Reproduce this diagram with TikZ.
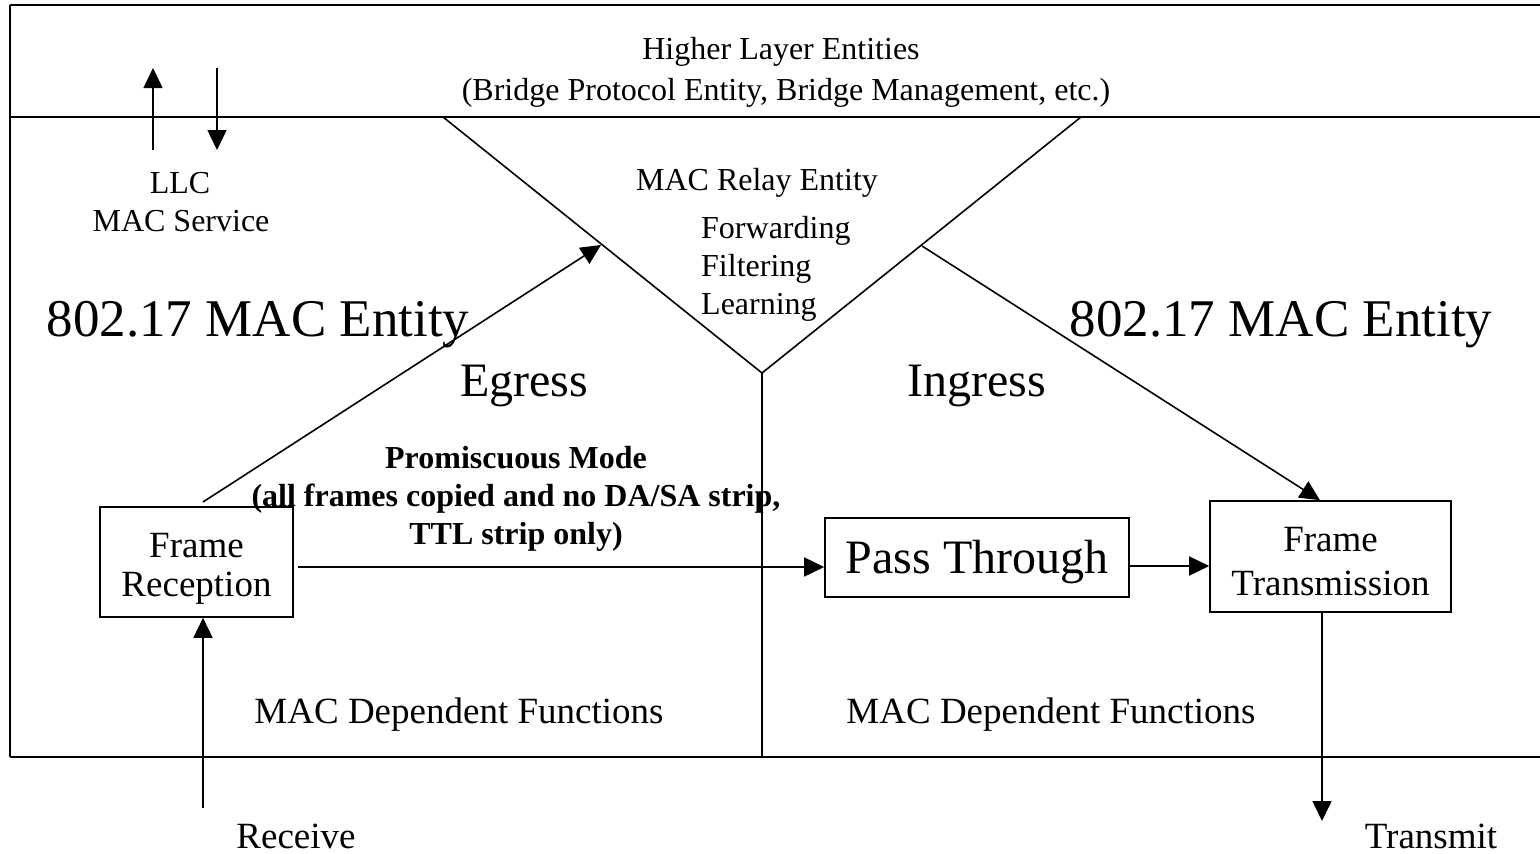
\documentclass[tikz,border=0pt]{standalone}
\usepackage{fontspec}
\setmainfont{Liberation Serif}
\usetikzlibrary{arrows.meta}
\newcommand{\fsz}[1]{\fontsize{#1}{#1}\selectfont}
\begin{document}
\begin{tikzpicture}[x=1pt,y=-1pt,
  line/.style={line width=1.6pt},
  outer/.style={line width=2.2pt},
  arr/.style={line width=1.6pt,-{Triangle[length=20pt,width=19pt]}},
  txt/.style={inner sep=0pt,font=\fsz{32}},
  mid/.style={inner sep=0pt,font=\fsz{37}},
  big/.style={inner sep=0pt,font=\fsz{48}},
  huge/.style={inner sep=0pt,font=\fsz{53}},
  boxn/.style={draw,line width=1.6pt,inner sep=0pt,align=center}]
\useasboundingbox (0,0) rectangle (1540,854);
\begin{scope}
\clip (0,0) rectangle (1540,854);
\draw[outer] (10,5) -- (1560,5);
\draw[outer] (10,117) -- (1560,117);
\draw[line] (10,757) -- (1560,757);
\draw[outer] (10,5) -- (10,757);
\end{scope}
% text top
\node[txt] (hle) at (781,52) {Higher Layer Entities};
\node[txt] (bpe) at (786,93) {(Bridge Protocol Entity, Bridge Management, etc.)};
% LLC arrows
\coordinate (ua1) at (153,150); \coordinate (ua2) at (153,68);
\coordinate (da1) at (217,68); \coordinate (da2) at (217,150);
\draw[arr] (ua1) -- (ua2);
\draw[arr] (da1) -- (da2);
\node[txt] (llc) at (180,183) {LLC};
\node[txt] (macs) at (181,221) {MAC Service};
% V lines
\coordinate (vl) at (443,117); \coordinate (vr) at (1081,117);
\coordinate (vb) at (762,373); \coordinate (vbot) at (762,757);
\draw[line] (vl) -- (vb) -- (vr);
\draw[line] (vb) -- (vbot);
\node[txt] (mre) at (757,183) {MAC Relay Entity};
\node[txt,anchor=west] (fwd) at (701,231) {Forwarding};
\node[txt,anchor=west] (flt) at (701,269) {Filtering};
\node[txt,anchor=west] (lrn) at (701,307) {Learning};
% big labels
\node[huge] (mel) at (258,325) {802.17 MAC Entity};
\node[huge] (mer) at (1281,325) {802.17 MAC Entity};
\node[big] (egr) at (524,386) {Egress};
\node[big] (ing) at (977,386) {Ingress};
% boxes
\node[boxn,minimum width=193pt,minimum height=110pt] (frx) at (196.5,562) {};
\node[mid] (frxa) at (196.5,546) {Frame};
\node[mid] (frxb) at (196.5,588) {Reception};
\node[boxn,minimum width=304pt,minimum height=79pt] (pt) at (977,557.5) {};
\node[big] (ptt) at (977,562) {Pass Through};
\node[boxn,minimum width=241pt,minimum height=111pt] (ftx) at (1330.5,556.5) {};
\node[mid] (ftxa) at (1330.5,540) {Frame};
\node[mid] (ftxb) at (1330.5,583) {Transmission};
% promiscuous
\node[txt,font=\bfseries\fsz{32},align=center] (prom) at (516,499) {Promiscuous Mode\\[6pt](all frames copied and no DA/SA strip,\\[6pt]TTL strip only)};
% arrows between boxes
\draw[arr] (frx.east |- 0,567) ++(4,0) -- (pt.west |- 0,567);
\draw[arr] (pt.east |- 0,566) -- (ftx.west |- 0,566);
\coordinate (eg1) at (203,502); \coordinate (eg2) at (601,245);
\draw[arr] (eg1) -- (eg2);
\coordinate (in1) at (922,246);
\draw[arr] (in1) -- (ftx.north -| 1320,0);
\coordinate (rx) at (203,808);
\draw[arr] (rx) -- (frx.south -| rx);
\coordinate (tx) at (1322,821);
\draw[arr] (ftx.south -| tx) -- (tx);
\node[mid] (rcv) at (296,836) {Receive};
\node[mid] (tms) at (1431,836) {Transmit};
\node[mid] (mdl) at (459,715) {MAC Dependent Functions};
\node[mid] (mdr) at (1051,715) {MAC Dependent Functions};
\end{tikzpicture}
\end{document}
